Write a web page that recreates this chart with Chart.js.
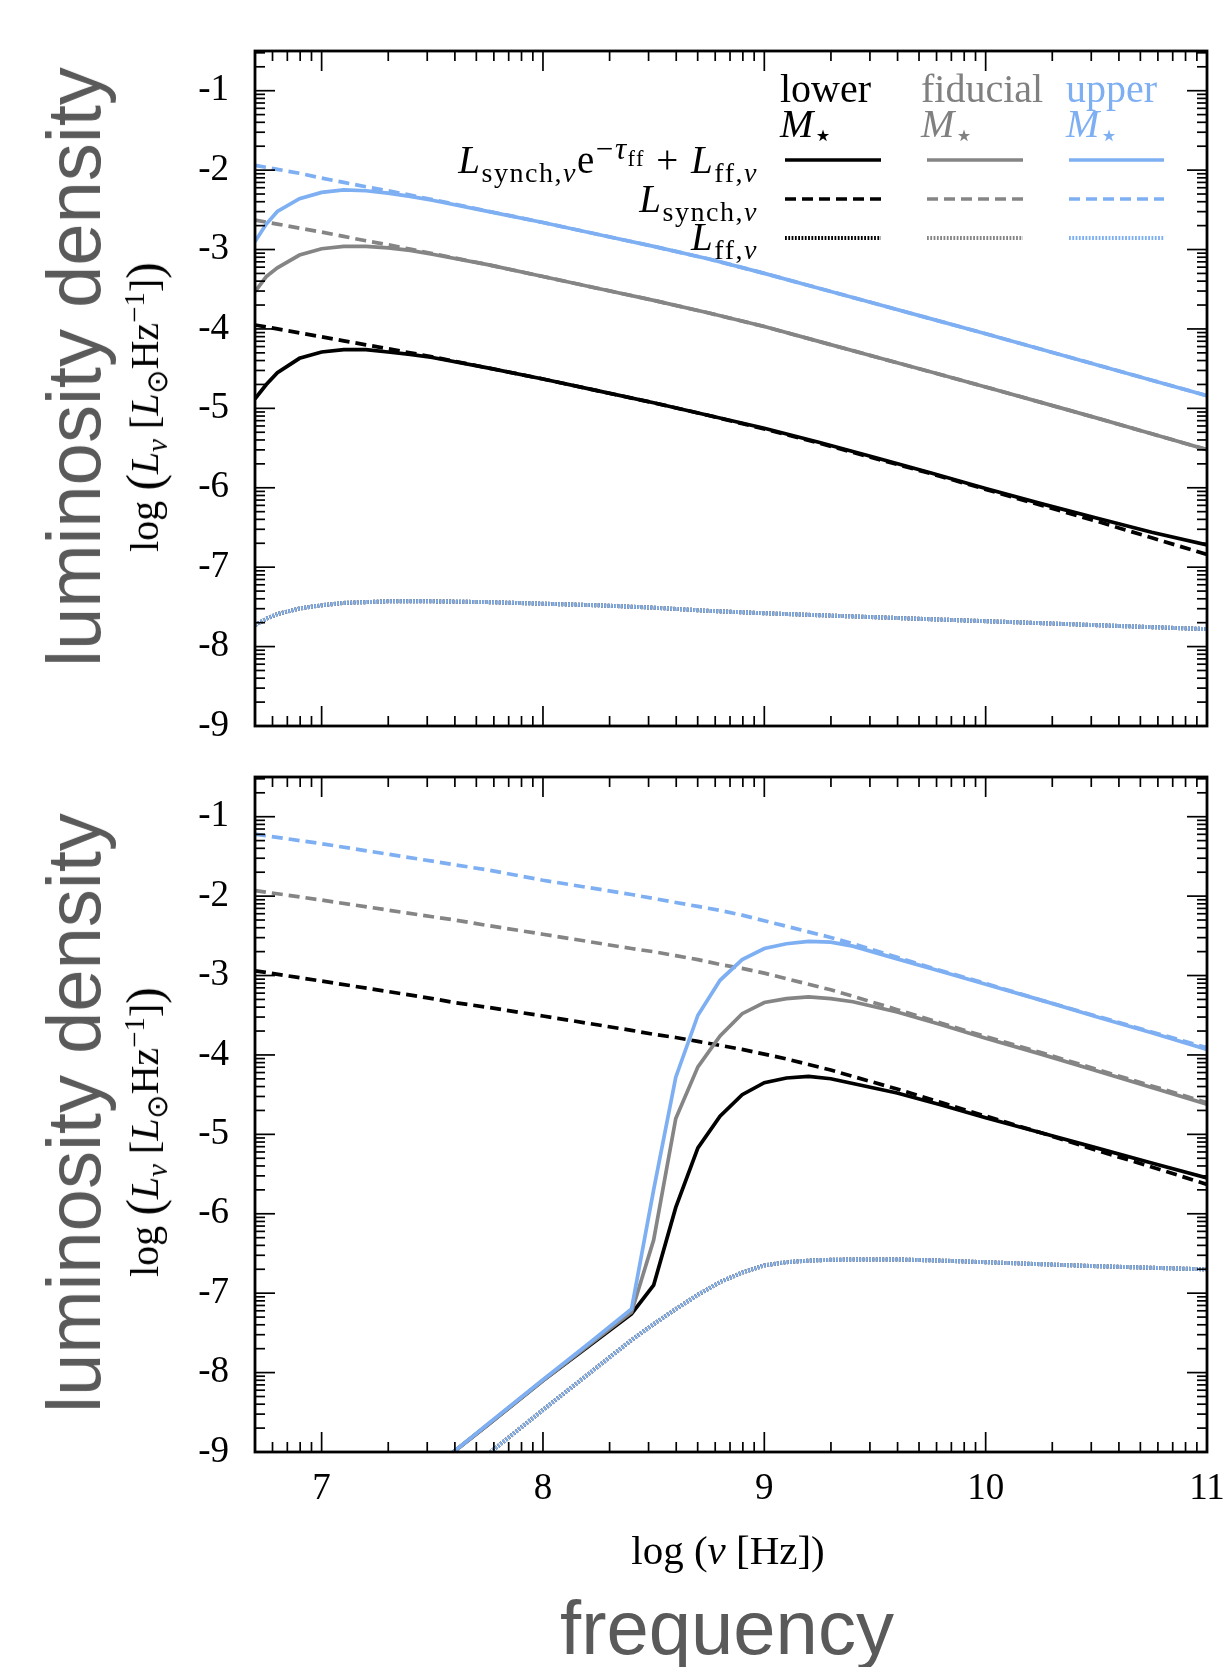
<!DOCTYPE html>
<html>
<head>
<meta charset="utf-8">
<script src="https://cdn.jsdelivr.net/npm/chart.js@4.4.0/dist/chart.umd.min.js"></script>
<style>
  body { margin: 0; background: #fff; }
  #page { position: relative; width: 1224px; height: 1667px; overflow: hidden; background: #fff; }
  canvas { position: absolute; left: 0; }
  .serif { position: absolute; white-space: nowrap; font-family: "Liberation Serif", "Times New Roman", serif; color: #000; font-size: 36px; line-height: 1; }
  .serif sub, .serif sup { font-size: 0.72em; line-height: 0; }
  .big { position: absolute; white-space: nowrap; font-family: "Liberation Sans", Arial, sans-serif; color: #5a5a5a; font-size: 76px; line-height: 1; }
  .rot { transform: translate(-50%, -50%) rotate(-90deg); }
  .ctr { transform: translate(-50%, -50%); }
  .paren { font-size: 1.25em; vertical-align: -0.06em; }
  .hdr { line-height: 35px; font-size: 40px; }
  .hdr sub { font-size: 0.8em; }
  .row { font-size: 39px; letter-spacing: 1.5px; }
  .row .sup2 { font-size: 0.8em; }
  .ytitle { font-size: 40px; }
  .xtitle { font-size: 41px; }
</style>
</head>
<body>
<div id="page">
  <canvas id="top" width="1224" height="760" style="top:0"></canvas>
  <canvas id="bottom" width="1224" height="907" style="top:760px"></canvas>

  <div class="big rot" style="left:74px; top:367px">luminosity density</div>
  <div class="big rot" style="left:74px; top:1113px">luminosity density</div>
  <div class="big ctr" style="left:727px; top:1628px">frequency</div>

  <div class="serif rot ytitle" style="left:144px; top:407px">log <span class="paren">(</span><i>L</i><sub><i>ν</i></sub> [<i>L</i><sub>⊙</sub>Hz<sup>−1</sup>]<span class="paren">)</span></div>
  <div class="serif rot ytitle" style="left:144px; top:1132px">log <span class="paren">(</span><i>L</i><sub><i>ν</i></sub> [<i>L</i><sub>⊙</sub>Hz<sup>−1</sup>]<span class="paren">)</span></div>
  <div class="serif ctr xtitle" style="left:728px; top:1550px">log (<i>ν</i> [Hz])</div>

  <div class="serif hdr" style="left:780px; top:71px">lower<br><i>M</i><sub>⋆</sub></div>
  <div class="serif hdr" style="left:921px; top:71px; color:#808080">fiducial<br><i>M</i><sub>⋆</sub></div>
  <div class="serif hdr" style="left:1066px; top:71px; color:#7daff2">upper<br><i>M</i><sub>⋆</sub></div>

  <div class="serif row" style="right:466px; top:140px"><i>L</i><sub>synch,<i>ν</i></sub>e<sup class="sup2">−<i>τ</i><sub>ff</sub></sup> + <i>L</i><sub>ff,<i>ν</i></sub></div>
  <div class="serif row" style="right:466px; top:179px"><i>L</i><sub>synch,<i>ν</i></sub></div>
  <div class="serif row" style="right:466px; top:217px"><i>L</i><sub>ff,<i>ν</i></sub></div>
</div>
<script>
// log frequency grid and values, top panel
const xTop = [6.699, 6.75, 6.8, 6.9, 7.0, 7.1, 7.2, 7.3, 7.4, 7.5, 7.75, 8.0, 8.25, 8.5, 8.75, 9.0, 9.25, 9.5, 9.75, 10.0, 10.25, 10.5, 10.75, 11.0];
const topTotalUpper = [-2.90, -2.68, -2.52, -2.36, -2.28, -2.25, -2.26, -2.29, -2.33, -2.38, -2.52, -2.66, -2.81, -2.96, -3.12, -3.30, -3.49, -3.68, -3.87, -4.06, -4.255, -4.45, -4.645, -4.84];
const topSynchUpper = [-1.94, -1.965, -1.99, -2.04, -2.10, -2.155, -2.21, -2.26, -2.315, -2.37, -2.515, -2.66, -2.81, -2.96, -3.12, -3.30, -3.49, -3.68, -3.87, -4.06, -4.255, -4.45, -4.645, -4.84];
const topTotalFid = [-3.53, -3.34, -3.23, -3.07, -2.99, -2.96, -2.96, -2.98, -3.01, -3.06, -3.19, -3.34, -3.49, -3.64, -3.80, -3.97, -4.16, -4.35, -4.54, -4.73, -4.925, -5.12, -5.32, -5.52];
const topSynchFid = [-2.63, -2.655, -2.68, -2.73, -2.78, -2.835, -2.89, -2.94, -2.995, -3.05, -3.19, -3.34, -3.49, -3.64, -3.80, -3.97, -4.16, -4.35, -4.54, -4.73, -4.925, -5.12, -5.32, -5.52];
const topTotalLow = [-4.88, -4.70, -4.55, -4.37, -4.29, -4.26, -4.26, -4.29, -4.32, -4.36, -4.49, -4.63, -4.78, -4.93, -5.09, -5.25, -5.43, -5.62, -5.81, -6.01, -6.20, -6.38, -6.56, -6.72];
const topSynchLow = [-3.95, -3.975, -4.00, -4.05, -4.10, -4.15, -4.20, -4.25, -4.30, -4.35, -4.49, -4.63, -4.78, -4.93, -5.09, -5.26, -5.44, -5.63, -5.82, -6.02, -6.22, -6.42, -6.63, -6.84];
const topFF = [-7.73, -7.65, -7.59, -7.52, -7.48, -7.45, -7.44, -7.43, -7.43, -7.43, -7.44, -7.46, -7.48, -7.51, -7.55, -7.58, -7.605, -7.63, -7.655, -7.68, -7.705, -7.73, -7.755, -7.78];

// bottom panel
const xBot = [6.699, 7.0, 7.5, 7.6, 7.75, 8.0, 8.2, 8.4, 8.5, 8.6, 8.7, 8.8, 8.9, 9.0, 9.1, 9.2, 9.3, 9.4, 9.6, 9.8, 10.0, 10.25, 10.5, 10.75, 11.0];
const botTotalUpper = [null, null, -9.21, -8.99, -8.65, -8.09, -7.65, -7.20, -5.70, -4.28, -3.50, -3.06, -2.80, -2.66, -2.60, -2.57, -2.58, -2.63, -2.79, -2.95, -3.11, -3.31, -3.52, -3.72, -3.93];
const botSynchUpper = [-1.22, -1.34, -1.56, -1.605, -1.67, -1.80, -1.89, -1.98, -2.03, -2.08, -2.13, -2.18, -2.24, -2.31, -2.38, -2.45, -2.52, -2.60, -2.77, -2.94, -3.10, -3.31, -3.51, -3.71, -3.91];
const botTotalFid = [null, null, -9.21, -8.99, -8.66, -8.10, -7.67, -7.24, -6.33, -4.80, -4.15, -3.76, -3.48, -3.34, -3.29, -3.27, -3.29, -3.33, -3.46, -3.62, -3.79, -3.99, -4.20, -4.41, -4.62];
const botSynchFid = [-1.93, -2.05, -2.26, -2.30, -2.37, -2.48, -2.57, -2.66, -2.70, -2.75, -2.80, -2.86, -2.91, -2.97, -3.04, -3.11, -3.18, -3.26, -3.43, -3.60, -3.77, -3.97, -4.18, -4.39, -4.60];
const botTotalLow = [null, null, -9.21, -8.99, -8.66, -8.10, -7.68, -7.26, -6.90, -5.92, -5.17, -4.77, -4.50, -4.35, -4.29, -4.27, -4.30, -4.36, -4.48, -4.63, -4.79, -4.98, -5.17, -5.36, -5.55];
const botSynchLow = [-2.94, -3.07, -3.29, -3.34, -3.40, -3.51, -3.60, -3.69, -3.74, -3.78, -3.83, -3.88, -3.93, -3.99, -4.05, -4.12, -4.19, -4.27, -4.43, -4.60, -4.77, -4.98, -5.20, -5.41, -5.63];
const botFF = [null, null, -9.62, -9.36, -9.03, -8.47, -8.03, -7.59, -7.39, -7.20, -7.02, -6.86, -6.74, -6.65, -6.61, -6.59, -6.58, -6.575, -6.575, -6.59, -6.61, -6.635, -6.66, -6.68, -6.70];

const xLabels = [7, 8, 9, 10, 11];
const yLabels = [-9, -8, -7, -6, -5, -4, -3, -2, -1];

const BLUE = '#7daff2';
const GRAY = '#858585';
const BLACK = '#000000';
const SERIF = '"Liberation Serif", "Times New Roman", serif';

const styles = {
  total: { borderWidth: 3.7, borderDash: [] },
  synch: { borderWidth: 3.7, borderDash: [11, 6] },
  ff: { borderWidth: 4, borderDash: [1.8, 1.5] }
};

function pts(xs, ys) {
  return xs.map((x, i) => ({ x: x, y: ys[i] }));
}

function line(xs, ys, color, kind) {
  return Object.assign({
    data: pts(xs, ys),
    borderColor: color,
    pointRadius: 0,
    tension: 0,
    fill: false,
    spanGaps: false
  }, styles[kind]);
}

// first dataset ends up on top
function panelSets(xs, s) {
  return [
    line(xs, s.totalUpper, BLUE, 'total'),
    line(xs, s.totalFid, GRAY, 'total'),
    line(xs, s.totalLow, BLACK, 'total'),
    line(xs, s.synchUpper, BLUE, 'synch'),
    line(xs, s.synchFid, GRAY, 'synch'),
    line(xs, s.synchLow, BLACK, 'synch'),
    line(xs, s.ff, BLUE, 'ff'),
    line(xs, s.ff, GRAY, 'ff'),
    line(xs, s.ff, BLACK, 'ff')
  ];
}

// box and log-style inward ticks on all four sides
const frame = {
  id: 'frame',
  afterDatasetsDraw(chart) {
    const { ctx, chartArea: a } = chart;
    const x = chart.scales.x, y = chart.scales.y;
    ctx.save();
    ctx.strokeStyle = '#000';
    ctx.lineWidth = 1.7;
    const seg = (x1, y1, x2, y2) => { ctx.beginPath(); ctx.moveTo(x1, y1); ctx.lineTo(x2, y2); ctx.stroke(); };
    for (let n = 6; n <= 11; n++) {
      for (let k = 1; k <= 9; k++) {
        const v = n + Math.log10(k);
        if (v <= x.min || v > x.max + 1e-9) continue;
        const p = x.getPixelForValue(v);
        const len = k === 1 ? 20 : 10;
        seg(p, a.bottom, p, a.bottom - len);
        seg(p, a.top, p, a.top + len);
      }
    }
    for (let n = -10; n <= 0; n++) {
      for (let k = 1; k <= 9; k++) {
        const v = n + Math.log10(k);
        if (v < y.min - 1e-9 || v > y.max) continue;
        const p = y.getPixelForValue(v);
        const len = k === 1 ? 20 : 10;
        seg(a.left, p, a.left + len, p);
        seg(a.right, p, a.right - len, p);
      }
    }
    ctx.lineWidth = 2.8;
    ctx.strokeRect(a.left, a.top, a.right - a.left, a.bottom - a.top);
    ctx.restore();
  }
};

// legend samples for the top panel
const legendSamples = {
  id: 'legendSamples',
  afterDraw(chart) {
    const ctx = chart.ctx;
    const cols = [[785, 881, BLACK], [927, 1023, GRAY], [1069, 1164, BLUE]];
    const rows = [[160, 'total'], [199, 'synch'], [238, 'ff']];
    ctx.save();
    rows.forEach(([yy, kind]) => {
      cols.forEach(([x1, x2, c]) => {
        ctx.strokeStyle = c;
        ctx.lineWidth = styles[kind].borderWidth;
        ctx.setLineDash(styles[kind].borderDash);
        ctx.beginPath();
        ctx.moveTo(x1, yy);
        ctx.lineTo(x2, yy);
        ctx.stroke();
      });
    });
    ctx.restore();
  }
};

function yScale() {
  return {
    type: 'linear',
    min: -9,
    max: -0.5,
    position: 'left',
    grid: { display: false, drawTicks: false },
    border: { display: false },
    afterBuildTicks: s => { s.ticks = yLabels.map(v => ({ value: v })); },
    afterFit: s => { s.width = 255; s.paddingTop = 0; s.paddingBottom = 0; },
    ticks: {
      autoSkip: false,
      padding: 26,
      color: '#000',
      font: { family: SERIF, size: 37 },
      callback: v => String(v)
    }
  };
}

const common = {
  responsive: false,
  animation: false,
  events: [],
  plugins: { legend: { display: false }, tooltip: { enabled: false } }
};

new Chart(document.getElementById('top'), {
  type: 'line',
  data: {
    datasets: panelSets(xTop, {
      totalUpper: topTotalUpper, totalFid: topTotalFid, totalLow: topTotalLow,
      synchUpper: topSynchUpper, synchFid: topSynchFid, synchLow: topSynchLow, ff: topFF
    })
  },
  options: Object.assign({}, common, {
    layout: { padding: { top: 51, right: 17, bottom: 34, left: 0 } },
    scales: {
      x: { type: 'linear', min: 6.699, max: 11, display: false },
      y: yScale()
    }
  }),
  plugins: [frame, legendSamples]
});

new Chart(document.getElementById('bottom'), {
  type: 'line',
  data: {
    datasets: panelSets(xBot, {
      totalUpper: botTotalUpper, totalFid: botTotalFid, totalLow: botTotalLow,
      synchUpper: botSynchUpper, synchFid: botSynchFid, synchLow: botSynchLow, ff: botFF
    })
  },
  options: Object.assign({}, common, {
    layout: { padding: { top: 17, right: 17, bottom: 0, left: 0 } },
    scales: {
      x: {
        type: 'linear',
        min: 6.699,
        max: 11,
        grid: { display: false, drawTicks: false },
        border: { display: false },
        afterBuildTicks: s => { s.ticks = xLabels.map(v => ({ value: v })); },
        afterFit: s => { s.height = 215; s.paddingLeft = 0; s.paddingRight = 0; },
        ticks: {
          autoSkip: false,
          maxRotation: 0,
          padding: 15,
          color: '#000',
          font: { family: SERIF, size: 37 },
          callback: v => String(v)
        }
      },
      y: yScale()
    }
  }),
  plugins: [frame]
});
</script>
</body>
</html>
